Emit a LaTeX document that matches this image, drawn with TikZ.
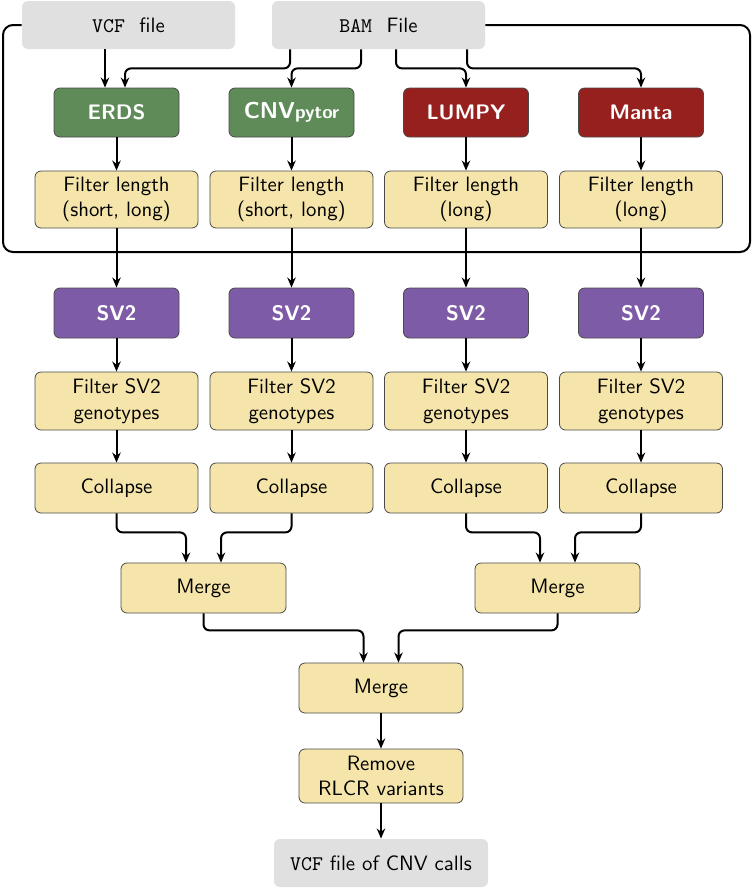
\documentclass[tikz,border=0pt]{standalone}
\usetikzlibrary{calc,arrows.meta}
\definecolor{boxgray}{HTML}{E0E0E0}
\definecolor{toolgreen}{HTML}{5E8B57}
\definecolor{toolred}{HTML}{96201E}
\definecolor{toolpurple}{HTML}{7E5BA6}
\definecolor{stepyellow}{HTML}{F5E5AA}
\definecolor{edgegray}{HTML}{4A4A4A}
\begin{document}
\begin{tikzpicture}[x=0.5pt,y=-0.5pt,
  every node/.style={font=\fontsize{10.4}{12.8}\selectfont\sffamily, align=center, inner sep=0pt},
  iobox/.style={fill=boxgray, rounded corners=3pt, minimum width=106.5pt, minimum height=24pt},
  toolbox/.style={draw=edgegray, line width=0.4pt, rounded corners=3pt, minimum width=62.5pt, minimum height=24.5pt, text=white, font=\fontsize{10.5}{12}\selectfont\sffamily\bfseries},
  stepbox/.style={draw=edgegray, line width=0.4pt, fill=stepyellow, rounded corners=3pt, minimum width=81.5pt},
  arr/.style={line width=1pt, -{Stealth[length=5pt,width=4.2pt,inset=1.6pt]}, rounded corners=3pt},
  frameline/.style={line width=1pt, rounded corners=5pt}]
\useasboundingbox (0,0) rectangle (752,890);

% top inputs
\node[iobox] (vcf) at (128.5,25) {\texttt{VCF}\hspace{0.7em}file};
\node[iobox] (bam) at (378.5,25) {\texttt{BAM}\hspace{0.7em}File};

% frame
\draw[frameline] (vcf.west) -| (3,252) -| (750,25) -- (bam.east);

% tools
\node[toolbox, fill=toolgreen] (erds) at (116.5,112.5) {ERDS};
\node[toolbox, fill=toolgreen] (cnvp) at (291.5,112.5) {{\fontsize{11.5}{13}\selectfont CNV}{\fontsize{9.5}{12}\selectfont pytor}};
\node[toolbox, fill=toolred] (lumpy) at (466,112.5) {LUMPY};
\node[toolbox, fill=toolred] (manta) at (641,112.5) {Manta};

% filter length
\node[stepbox, minimum height=28.5pt] (fl1) at (116.5,199.5) {Filter length\\(short, long)};
\node[stepbox, minimum height=28.5pt] (fl2) at (291.5,199.5) {Filter length\\(short, long)};
\node[stepbox, minimum height=28.5pt] (fl3) at (466,199.5) {Filter length\\(long)};
\node[stepbox, minimum height=28.5pt] (fl4) at (641,199.5) {Filter length\\(long)};

% SV2
\node[toolbox, fill=toolpurple, minimum height=25pt] (sv1) at (116.5,313) {SV2};
\node[toolbox, fill=toolpurple, minimum height=25pt] (sv2) at (291.5,313) {SV2};
\node[toolbox, fill=toolpurple, minimum height=25pt] (sv3) at (466,313) {SV2};
\node[toolbox, fill=toolpurple, minimum height=25pt] (sv4) at (641,313) {SV2};

% filter SV2 genotypes
\node[stepbox, minimum height=29pt] (fg1) at (116.5,401) {Filter SV2\\genotypes};
\node[stepbox, minimum height=29pt] (fg2) at (291.5,401) {Filter SV2\\genotypes};
\node[stepbox, minimum height=29pt] (fg3) at (466,401) {Filter SV2\\genotypes};
\node[stepbox, minimum height=29pt] (fg4) at (641,401) {Filter SV2\\genotypes};

% collapse
\node[stepbox, minimum height=25pt] (co1) at (116.5,488) {Collapse};
\node[stepbox, minimum height=25pt] (co2) at (291.5,488) {Collapse};
\node[stepbox, minimum height=25pt] (co3) at (466,488) {Collapse};
\node[stepbox, minimum height=25pt] (co4) at (641,488) {Collapse};

% merges
\node[stepbox, minimum width=82.5pt, minimum height=25pt] (ml) at (203.5,588) {Merge};
\node[stepbox, minimum width=82.5pt, minimum height=25pt] (mr) at (557.5,588) {Merge};
\node[stepbox, minimum width=82pt, minimum height=25pt] (mc) at (381,688) {Merge};
\node[stepbox, minimum width=82pt, minimum height=27pt] (rm) at (381,776) {Remove\\RLCR variants};
\node[iobox, minimum width=107pt] (out) at (381,863) {\texttt{VCF} file of CNV calls};

% input arrows
\draw[arr] ($(vcf.south)+(-23.5,0)$) -- ($(erds.north)+(-11.5,0)$);
\draw[arr] ($(bam.south)+(-88.5,0)$) -- ++(0,19) -| ($(erds.north)+(8.5,0)$);
\draw[arr] ($(bam.south)+(-17.5,0)$) -- ++(0,19) -| (cnvp.north);
\draw[arr] ($(bam.south)+(17.5,0)$) -- ++(0,19) -| (lumpy.north);
\draw[arr] ($(bam.south)+(88.5,0)$) -- ++(0,19) -| (manta.north);

% columns
\foreach \t/\f/\s/\g/\c in {erds/fl1/sv1/fg1/co1, cnvp/fl2/sv2/fg2/co2, lumpy/fl3/sv3/fg3/co3, manta/fl4/sv4/fg4/co4}{
  \draw[arr] (\t) -- (\f);
  \draw[arr] (\f) -- (\s);
  \draw[arr] (\s) -- (\g);
  \draw[arr] (\g) -- (\c);
}

% merging
\draw[arr] (co1.south) -- ++(0,19) -| ($(ml.north)+(-17.5,0)$);
\draw[arr] (co2.south) -- ++(0,19) -| ($(ml.north)+(17.5,0)$);
\draw[arr] (co3.south) -- ++(0,19) -| ($(mr.north)+(-17.5,0)$);
\draw[arr] (co4.south) -- ++(0,19) -| ($(mr.north)+(17.5,0)$);
\draw[arr] (ml.south) -- ++(0,17) -| ($(mc.north)+(-17.5,0)$);
\draw[arr] (mr.south) -- ++(0,17) -| ($(mc.north)+(17.5,0)$);
\draw[arr] (mc) -- (rm);
\draw[arr] (rm) -- (out);
\end{tikzpicture}
\end{document}
